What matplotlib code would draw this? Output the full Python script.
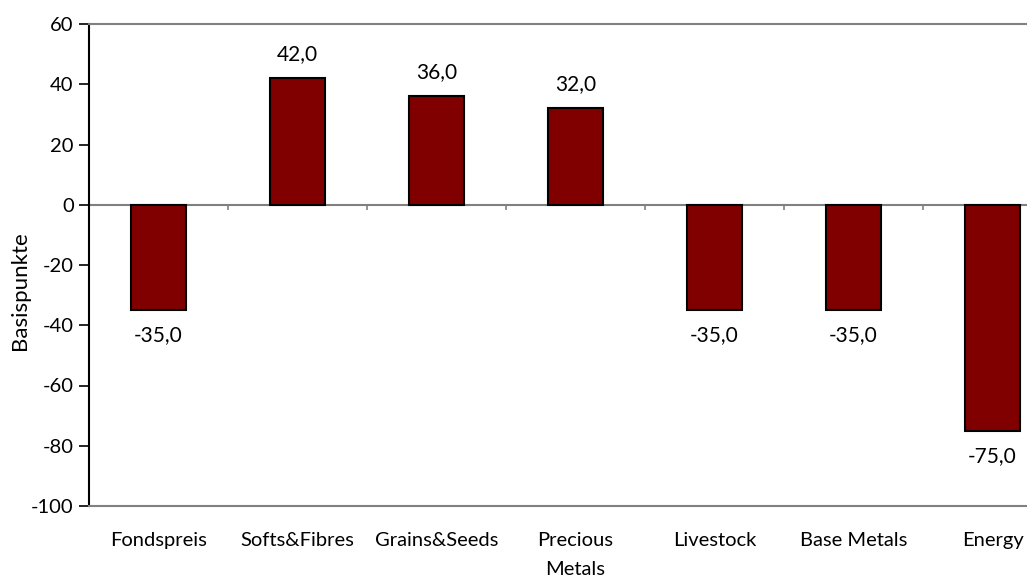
import numpy as np
import matplotlib
matplotlib.use("Agg")
import matplotlib.pyplot as plt

plt.rcParams["font.family"] = ["Lato", "DejaVu Sans"]

categories = ["Fondspreis", "Softs&Fibres", "Grains&Seeds", "Precious\nMetals",
              "Livestock", "Base Metals", "Energy"]
values = [-35.0, 42.0, 36.0, 32.0, -35.0, -35.0, -75.0]
yticks = [-100, -80, -60, -40, -20, 0, 20, 40, 60]

BAR = "#800000"
GRAY = "#808080"
FS = 14.5

fig = plt.figure(figsize=(10.27, 5.79), dpi=100)
ax = fig.add_axes([89 / 1027, 1 - 506 / 579, 973 / 1027, 482 / 579])

x = np.arange(len(categories))
ax.bar(x, values, 0.4, color=BAR, edgecolor="black", linewidth=1.5, zorder=3)

ax.set_xlim(-0.5, len(categories) - 0.5)
ax.set_ylim(-100, 60)
ax.set_yticks(yticks)
ax.set_yticklabels([str(v) for v in yticks], fontsize=FS)
ax.tick_params(axis="y", length=7, width=1.2, color="black", pad=4)
ax.set_xticks(x)
ax.set_xticklabels(categories, fontsize=FS, linespacing=1.8, va="top")
ax.tick_params(axis="x", length=0, pad=19)

# zero line with small separator ticks between categories
ax.axhline(0, color=GRAY, lw=1.5, zorder=2)
ax.vlines(x[:-1] + 0.5, -1.7, 0, color=GRAY, lw=1.2, zorder=2)

for s in ["top", "bottom"]:
    ax.spines[s].set_color(GRAY)
    ax.spines[s].set_linewidth(1.5)
ax.spines["left"].set_color("black")
ax.spines["left"].set_linewidth(1.5)
ax.spines["right"].set_visible(False)

for xi, v in zip(x, values):
    off = 10 if v > 0 else -11
    ax.annotate(f"{v:.1f}".replace(".", ","), (xi, v), xytext=(0, off),
                textcoords="offset points", ha="center",
                va="bottom" if v > 0 else "top", fontsize=15)

fig.text(20 / 1027, 1 - 291 / 579, "Basispunkte", rotation=90,
         ha="center", va="center", fontsize=16)

fig.savefig("out.png", dpi=100)
